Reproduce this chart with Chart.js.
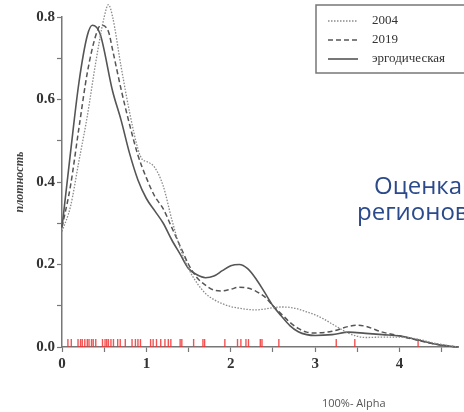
<!DOCTYPE html>
<html><head><meta charset="utf-8">
<script src="https://cdn.jsdelivr.net/npm/chart.js@4"></script>
<style>
html,body{margin:0;padding:0;background:#fff;}
#wrap{position:relative;width:464px;height:412px;overflow:hidden;}
canvas{position:absolute;left:0;top:0;}
.blue{position:absolute;font-family:'Open Sans',sans-serif;color:#2b4a8b;font-size:24px;white-space:nowrap;line-height:1;}
#xlab{position:absolute;font-family:'Open Sans',sans-serif;font-size:11px;color:#555;white-space:nowrap;}
</style></head><body>
<div id="wrap">
<canvas id="c" width="464" height="412"></canvas>
<div class="blue" style="left:374px;top:173px;">Оценка</div>
<div class="blue" style="left:357px;top:199px;">регионов</div>
<div id="xlab" style="left:322px;top:395px;">100%- Alpha</div>
</div>
<script>
// ---- data ----
const seriesLabels = ['2004', '2019', 'эргодическая'];

const x2004 = [0,0.1,0.2,0.3,0.4,0.5,0.55,0.6,0.7,0.8,0.9,0.95,1.0,1.1,1.2,1.3,1.4,1.5,1.6,1.7,1.8,1.9,2.0,2.1,2.2,2.3,2.4,2.5,2.6,2.7,2.8,2.9,3.0,3.1,3.2,3.3,3.4,3.5,3.6,3.8,4.0,4.2,4.4,4.6,4.7];
const y2004 = [0.28,0.34,0.45,0.56,0.69,0.8,0.83,0.80,0.68,0.57,0.48,0.455,0.45,0.435,0.39,0.31,0.24,0.19,0.155,0.13,0.115,0.105,0.098,0.094,0.091,0.09,0.092,0.095,0.097,0.096,0.092,0.085,0.078,0.068,0.056,0.044,0.033,0.026,0.023,0.024,0.024,0.02,0.01,0.003,0];

const x2019 = [0,0.1,0.2,0.3,0.4,0.46,0.55,0.6,0.7,0.8,0.9,1.0,1.1,1.2,1.3,1.4,1.5,1.6,1.7,1.8,1.9,2.0,2.1,2.2,2.3,2.4,2.5,2.6,2.7,2.8,2.9,3.0,3.2,3.4,3.5,3.6,3.8,4.0,4.2,4.4,4.6,4.7];
const y2019 = [0.29,0.39,0.53,0.665,0.755,0.78,0.765,0.72,0.625,0.54,0.465,0.41,0.365,0.335,0.29,0.245,0.2,0.168,0.15,0.138,0.136,0.14,0.145,0.143,0.135,0.122,0.1,0.08,0.06,0.045,0.036,0.034,0.038,0.05,0.053,0.05,0.036,0.027,0.017,0.008,0.002,0];

const xErg = [0,0.1,0.2,0.3,0.36,0.45,0.6,0.7,0.8,0.9,1.0,1.1,1.2,1.3,1.4,1.5,1.6,1.7,1.8,1.9,2.0,2.1,2.2,2.3,2.4,2.5,2.6,2.7,2.8,2.9,3.0,3.2,3.4,3.6,3.8,4.0,4.2,4.4,4.6,4.7];
const yErg = [0.29,0.47,0.64,0.755,0.78,0.76,0.62,0.55,0.47,0.405,0.36,0.33,0.30,0.26,0.225,0.19,0.175,0.168,0.172,0.185,0.197,0.2,0.19,0.165,0.133,0.1,0.075,0.052,0.037,0.03,0.028,0.03,0.036,0.033,0.03,0.027,0.018,0.008,0.002,0];

const rugX = [0.07,0.11,0.19,0.22,0.24,0.27,0.30,0.32,0.35,0.37,0.40,0.48,0.51,0.53,0.55,0.58,0.61,0.66,0.69,0.75,0.83,0.87,0.90,0.93,1.05,1.08,1.12,1.17,1.22,1.26,1.29,1.40,1.42,1.56,1.67,1.69,1.93,2.08,2.12,2.18,2.21,2.35,2.37,2.57,3.25,3.47,4.22];
const rugLevel = 0.0097;

const xTickValues = [0,0.5,1,1.5,2,2.5,3,3.5,4,4.5];
const xTickLabels = ['0','','1','','2','','3','','4',''];
const yTickValues = [0,0.1,0.2,0.3,0.4,0.5,0.6,0.7,0.8];
const yTickLabels = ['0.0','','0.2','','0.4','','0.6','','0.8'];

const pts = (xs, ys) => xs.map((x, i) => ({x, y: ys[i]}));

const legendPlugin = {
  id: 'boxLegend',
  afterDraw(chart) {
    const ctx = chart.ctx;
    ctx.save();
    ctx.strokeStyle = '#777';
    ctx.lineWidth = 1.5;
    ctx.strokeRect(316, 5, 170, 68);
    const ys = [21, 40, 59];
    chart.data.datasets.slice(0, 3).forEach((ds, i) => {
      ctx.strokeStyle = ds.borderColor;
      ctx.lineWidth = ds.borderWidth;
      ctx.setLineDash(ds.borderDash || []);
      ctx.beginPath();
      ctx.moveTo(328, ys[i]);
      ctx.lineTo(358, ys[i]);
      ctx.stroke();
      ctx.setLineDash([]);
      ctx.fillStyle = '#333';
      ctx.font = '13px "Liberation Serif", serif';
      ctx.textBaseline = 'middle';
      ctx.fillText(ds.label, 372, ys[i]);
    });
    ctx.restore();
  }
};

new Chart(document.getElementById('c'), {
  type: 'line',
  data: {
    datasets: [
      {label: seriesLabels[0], data: pts(x2004, y2004), borderColor: '#8a8a8a', borderWidth: 1.3, borderDash: [1.5, 1.5], pointRadius: 0, cubicInterpolationMode: 'monotone', clip: false},
      {label: seriesLabels[1], data: pts(x2019, y2019), borderColor: '#555', borderWidth: 1.5, borderDash: [5, 3], pointRadius: 0, cubicInterpolationMode: 'monotone', clip: false},
      {label: seriesLabels[2], data: pts(xErg, yErg), borderColor: '#555', borderWidth: 1.6, pointRadius: 0, cubicInterpolationMode: 'monotone', clip: false},
      {label: 'rug', data: rugX.map(x => ({x, y: rugLevel})), showLine: false, pointStyle: 'line', rotation: 90, pointRadius: 4, pointBorderColor: 'rgba(245,50,50,0.85)', borderColor: 'rgba(245,50,50,0.85)', pointBorderWidth: 1.4, pointHoverRadius: 0}
    ]
  },
  options: {
    responsive: false,
    devicePixelRatio: 1,
    animation: false,
    events: [],
    layout: {padding: {top: 17, right: 0, left: 0, bottom: 0}},
    plugins: {legend: {display: false}, tooltip: {enabled: false}},
    scales: {
      x: {
        type: 'linear', min: 0, max: 4.7,
        afterBuildTicks: s => { s.ticks = xTickValues.map(v => ({value: v})); },
        afterFit: s => { s.height = 65; },
        ticks: {
          autoSkip: false, maxRotation: 0, padding: 3, color: '#333',
          font: {family: '"Liberation Serif", serif', size: 15, weight: 'bold'},
          callback: (v, i) => xTickLabels[i]
        },
        grid: {drawOnChartArea: false, drawTicks: true, tickLength: 5, color: '#777', tickWidth: 1.2},
        border: {display: true, color: '#777', width: 1.5}
      },
      y: {
        type: 'linear', min: 0, max: 0.8,
        afterBuildTicks: s => { s.ticks = yTickValues.map(v => ({value: v})); },
        afterFit: s => { s.width = 62; },
        ticks: {
          autoSkip: false, padding: 2, color: '#333',
          font: {family: '"Liberation Serif", serif', size: 15, weight: 'bold'},
          callback: (v, i) => yTickLabels[i]
        },
        title: {display: true, text: 'плотность', color: '#444', padding: {top: 13, bottom: 0},
          font: {family: '"Liberation Serif", serif', size: 12, style: 'italic', weight: 'bold'}},
        grid: {drawOnChartArea: false, drawTicks: true, tickLength: 5, color: '#777', tickWidth: 1.2},
        border: {display: true, color: '#777', width: 1.5}
      }
    }
  },
  plugins: [legendPlugin]
});
</script>
</body></html>
